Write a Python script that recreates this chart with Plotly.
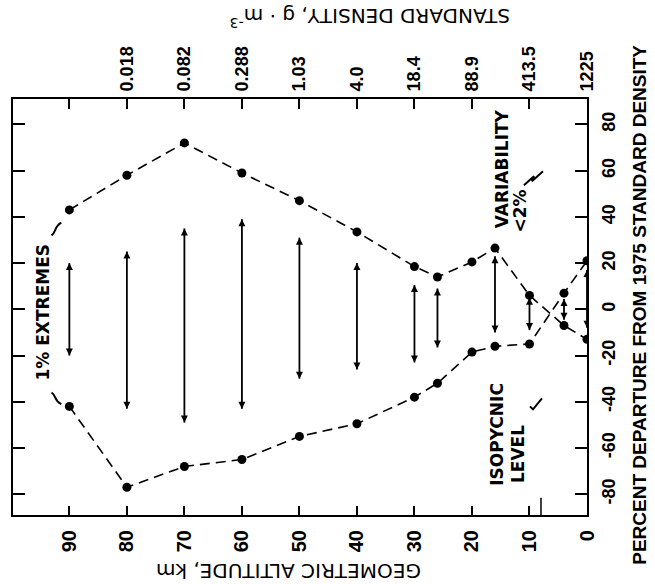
import plotly.graph_objects as go

# Altitudes (km) at which the 1% extremes of density are given
ALTITUDE_KM = [90, 80, 70, 60, 50, 40, 30, 26, 20, 16, 10, 4, 0]
# Upper and lower 1% extremes, percent departure from the 1975 standard density
UPPER_PCT = [43, 58, 72, 59, 47, 33.5, 18.5, 14, 20.5, 26.5, 6, -7, -13]
LOWER_PCT = [-42, -77, -68, -65, -55, -49.5, -38, -32, -18.5, -16, -15, 7, 21]

# Variability ranges drawn as double-headed arrows
RANGE_ALT_KM = [90, 80, 70, 60, 50, 40, 30, 26, 16, 10, 4, 0]
RANGE_HIGH_PCT = [20, 25, 35, 39, 31, 20, 10.5, 9, 23, 5, 4.5, 17]
RANGE_LOW_PCT = [-20, -43, -49, -43, -30, -26, -23, -16.5, -10, -9, -4.5, -8]

# Axis ticks
ALT_TICKS = [90, 80, 70, 60, 50, 40, 30, 20, 10, 0]
DENSITY_ALT_TICKS = [90, 80, 70, 60, 50, 40, 30, 20, 10, 0]
DENSITY_LABELS = [" ", "0.018", "0.082", "0.288", "1.03", "4.0", "18.4", "88.9", "413.5", "1225"]
PCT_TICKS = [80, 60, 40, 20, 0, -20, -40, -60, -80]
ISOPYCNIC_ALT_KM = 8

INK = "black"
TICK_FONT = dict(family="Liberation Sans", size=18, color=INK, weight="bold")
LABEL_FONT = dict(family="DejaVu Sans", size=17, color=INK, weight="bold")
TITLE_FONT = dict(family="DejaVu Sans", size=20, color=INK)
DASH = "10px,6px"

fig = go.Figure()

# Envelopes of the 1% extremes
for values in (UPPER_PCT, LOWER_PCT):
    fig.add_trace(go.Scatter(
        x=ALTITUDE_KM, y=values, mode="lines+markers",
        line=dict(color=INK, width=1.6, dash=DASH),
        marker=dict(size=9, color=INK),
        hoverinfo="skip",
    ))

# Arrow shafts
shaft_x, shaft_y = [], []
for alt, hi, lo in zip(RANGE_ALT_KM, RANGE_HIGH_PCT, RANGE_LOW_PCT):
    shaft_x += [alt, alt, None]
    shaft_y += [lo, hi, None]
fig.add_trace(go.Scatter(
    x=shaft_x, y=shaft_y, mode="lines",
    line=dict(color=INK, width=1.8), hoverinfo="skip",
))
# Arrow heads
fig.add_trace(go.Scatter(
    x=RANGE_ALT_KM, y=RANGE_HIGH_PCT, mode="markers",
    marker=dict(symbol="arrow-up", size=7, color=INK, line=dict(width=0)),
    hoverinfo="skip",
))
fig.add_trace(go.Scatter(
    x=RANGE_ALT_KM, y=RANGE_LOW_PCT, mode="markers",
    marker=dict(symbol="arrow-down", size=7, color=INK, line=dict(width=0)),
    hoverinfo="skip",
))

# Carrier for the density axis along the top
fig.add_trace(go.Scatter(
    x=DENSITY_ALT_TICKS, y=[0] * len(DENSITY_ALT_TICKS), xaxis="x2",
    mode="markers", marker=dict(opacity=0), hoverinfo="skip",
))

alt_range = [99.8, 0]
axis_common = dict(
    showgrid=False, zeroline=False, showline=True, linewidth=2, linecolor=INK,
    ticks="inside", tickwidth=1.5, tickcolor=INK, tickangle=-90,
)

fig.update_layout(
    width=655, height=584,
    margin=dict(l=13, r=68, t=99, b=69),
    paper_bgcolor="white", plot_bgcolor="white",
    showlegend=False,
    xaxis=dict(range=alt_range, tickvals=ALT_TICKS, ticklen=9,
               ticklabelstandoff=5, tickfont=dict(TICK_FONT, size=20),
               **axis_common),
    xaxis2=dict(range=alt_range, overlaying="x", side="top",
                tickvals=DENSITY_ALT_TICKS, ticktext=DENSITY_LABELS,
                ticklen=10, ticklabelstandoff=2, tickfont=TICK_FONT,
                **axis_common),
    yaxis=dict(range=[-89, 91], side="right", mirror="ticks",
               tickvals=PCT_TICKS, ticktext=[str(v) for v in PCT_TICKS],
               ticklen=12, ticklabelstandoff=4, tickfont=TICK_FONT,
               **axis_common),
)

annotations = [
    dict(text="GEOMETRIC ALTITUDE, km", xref="paper", yref="paper",
         x=0.479, y=-0.135, textangle=180, font=TITLE_FONT),
    dict(text="STANDARD DENSITY, g · m<sup>-3</sup>", xref="paper", yref="paper",
         x=0.622, y=1.195, textangle=180, font=TITLE_FONT),
    dict(text="PERCENT DEPARTURE FROM 1975 STANDARD DENSITY", xref="paper", yref="paper",
         x=1.092, y=0.505, textangle=-90,
         font=dict(family="Liberation Sans", size=19, color=INK, weight="bold")),
    dict(text="1% EXTREMES", x=94.6, y=-1, textangle=-90, font=LABEL_FONT),
    dict(text="VARIABILITY", x=14.8, y=61, textangle=-90, font=LABEL_FONT),
    dict(text="&lt;2%", x=11.7, y=42.6, textangle=-90, font=LABEL_FONT),
    dict(text="ISOPYCNIC", x=15.7, y=-54, textangle=-90, font=LABEL_FONT),
    dict(text="LEVEL", x=11.9, y=-62.8, textangle=-90, font=LABEL_FONT),
]
for a in annotations:
    a.setdefault("xref", "x")
    a.setdefault("yref", "y")
    a["showarrow"] = False
    a["xanchor"] = "center"
    a["yanchor"] = "middle"
fig.update_layout(annotations=annotations)

# Leader strokes tying labels to the curves, and the isopycnic level mark
stroke = dict(color=INK, width=2)
fig.update_layout(shapes=[
    dict(type="path", xref="x", yref="y", line=stroke,
         path="M93.1,32.0 C92.2,33.5 92.7,35.8 91.4,37.5"),
    dict(type="path", xref="x", yref="y", line=stroke,
         path="M93.1,-36.0 C92.2,-37.5 92.7,-39.6 91.4,-41.0"),
    dict(type="path", xref="x", yref="y", line=stroke,
         path="M10.96,53.7 L9.22,57.6 L9.57,55.4 L7.65,59.7"),
    dict(type="path", xref="x", yref="y", line=stroke,
         path="M9.91,-42.0 L9.39,-43.3 L7.83,-38.5"),
    dict(type="line", xref="x", yref="y", line=dict(color=INK, width=1.5),
         x0=ISOPYCNIC_ALT_KM, x1=ISOPYCNIC_ALT_KM, y0=-89, y1=-81.5),
])

fig.write_html("out.html")
